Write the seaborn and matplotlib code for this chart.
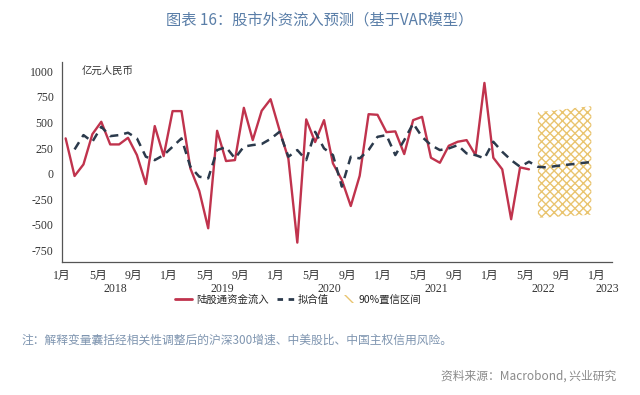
import numpy as np
import pandas as pd
import matplotlib
matplotlib.use("Agg")
import matplotlib.pyplot as plt
import seaborn as sns
from matplotlib.lines import Line2D
from matplotlib.patches import Patch

# 陆股通资金流入, 2018-01 .. 2022-05 (亿元人民币)
actual = [345, -22, 91, 386, 507, 286, 286, 351, 182, -100, 465, 172,
          611, 611, 52, -168, -532, 419, 124, 133, 643, 328, 614, 727,
          426, 146, -672, 530, 309, 523, 101, -61, -315, -20, 581, 575,
          406, 413, 192, 523, 555, 156, 107, 273, 312, 328, 182, 886,
          156, 43, -444, 62, 43]

# 拟合值, 2018-02 .. 2022-12 (incl. forecast)
fitted = [237, 377, 312, 458, 367, 377, 400, 345, 166, 133, 182,
          263, 345, 68, -29, -45, 231, 260, 150, 265, 280, 290, 340,
          409, 166, 231, 133, 409, 247, 182, -126, 166, 150, 231, 360,
          377, 182, 328, 491, 360, 279, 231, 247, 279, 198, 182, 150,
          312, 214, 133, 68, 117, 68, 62, 75, 85, 95, 105, 115]

# 90%置信区间, 2022-06 .. 2022-12
band_upper = [600, 610, 620, 630, 640, 650, 660]
band_lower = [-430, -425, -420, -415, -410, -405, -400]

tick_labels = ["1月", "5月", "9月"] * 5 + ["1月"]
years = ["2018", "2019", "2020", "2021", "2022", "2023"]
year_pos = [6, 18, 30, 42, 54, 61.2]
yticks = [1000, 750, 500, 250, 0, -250, -500, -750]

off = 0.4
df_actual = pd.DataFrame({"m": np.arange(len(actual)) + off, "v": actual})
df_fit = pd.DataFrame({"m": np.arange(1, 1 + len(fitted)) + off, "v": fitted})
band_x = np.arange(53, 53 + len(band_upper)) + off

sns.set_style("white")
plt.rcParams["font.family"] = ["Noto Sans CJK SC", "DejaVu Sans"]
plt.rcParams["hatch.linewidth"] = 1.0
serif = ["Liberation Serif", "Noto Sans CJK SC"]

red = "#c0334d"
navy = "#2b3a4c"
gold = "#e9c46f"

fig = plt.figure(figsize=(6.4, 3.95), dpi=100)
ax = fig.add_axes([0.097, 0.337, 0.859, 0.506])

ax.fill_between(band_x, band_lower, band_upper, facecolor="none",
                edgecolor=gold, hatch="xxxx", linewidth=0)
sns.lineplot(data=df_actual, x="m", y="v", ax=ax, color=red, linewidth=1.7)
sns.lineplot(data=df_fit, x="m", y="v", ax=ax, color=navy, linewidth=1.8,
             linestyle=(0, (3.4, 2.4)))

ax.set_xlim(0, 61.7)
ax.set_ylim(-860, 1090)
ax.set_xticks(range(0, 61, 4))
ax.set_xticklabels(tick_labels, family=serif, fontsize=8.5, color="#333333")
ax.set_yticks(yticks)
ax.set_yticklabels([str(v) for v in yticks], family=serif, fontsize=8.5,
                   color="#333333")
ax.set_xlabel("")
ax.set_ylabel("")
ax.tick_params(axis="both", direction="out", length=4, width=0.8,
               color="#555555", pad=2)
for s in ["top", "right"]:
    ax.spines[s].set_visible(False)
for s in ["left", "bottom"]:
    ax.spines[s].set_color("#555555")
    ax.spines[s].set_linewidth(0.9)

for yr, p in zip(years, year_pos):
    ax.text(p, -0.135, yr, transform=ax.get_xaxis_transform(), ha="center",
            va="center", family=serif, fontsize=8.5, color="#333333")

ax.text(0.035, 0.955, "亿元人民币", transform=ax.transAxes, ha="left",
        va="center", fontsize=7.5, color="#333333")

handles = [Line2D([], [], color=red, linewidth=2),
           Line2D([], [], color=navy, linewidth=2, linestyle=(0, (2, 2))),
           Patch(facecolor="none", edgecolor=gold, hatch="\\\\", linewidth=0)]
fig.legend(handles, ["陆股通资金流入", "拟合值", "90%置信区间"], loc="center",
           bbox_to_anchor=(0.466, 0.242), ncol=3, frameon=False,
           fontsize=7.5, handlelength=1.6, handletextpad=0.4,
           columnspacing=0.8)

fig.text(0.5, 0.949, "图表 16：股市外资流入预测（基于VAR模型）", ha="center",
         va="center", fontsize=11, color="#5a7ea8")
fig.text(0.034, 0.139, "注：解释变量囊括经相关性调整后的沪深300增速、中美股比、中国主权信用风险。",
         ha="left", va="center", fontsize=8.5, color="#7f95b0")
fig.text(0.963, 0.048, "资料来源：Macrobond, 兴业研究", ha="right",
         va="center", fontsize=8.5, color="#8a8a8a")

fig.savefig("out.png", dpi=100)
